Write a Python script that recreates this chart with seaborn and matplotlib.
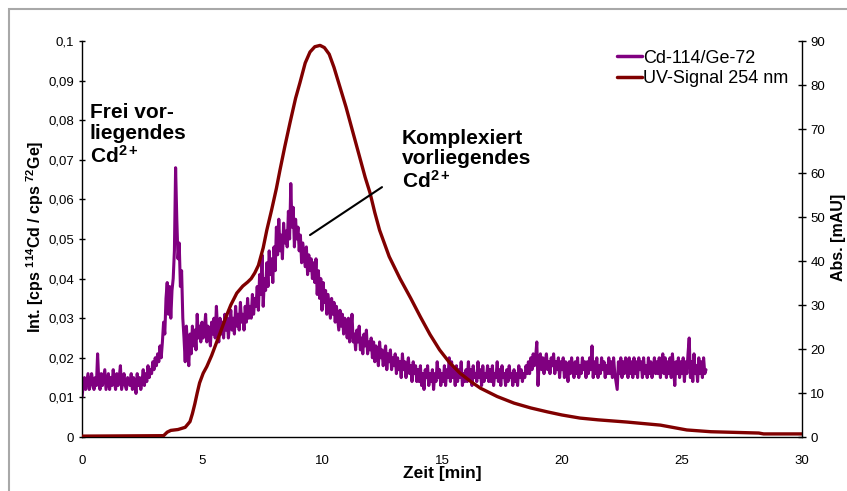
import numpy as np
import pandas as pd
import matplotlib
matplotlib.use("Agg")
import matplotlib.pyplot as plt
import seaborn as sns
from matplotlib.ticker import MultipleLocator
from matplotlib.lines import Line2D
from matplotlib.patches import Rectangle

# Cd-114/Ge-72, ein Wert je 0,05 min (eine Zeile = 1 min)
cd_ratio = [
    0.010, 0.013, 0.015, 0.012, 0.014, 0.016, 0.012, 0.013, 0.016, 0.014, 0.012, 0.015, 0.013, 0.021, 0.014, 0.012, 0.016, 0.013, 0.015, 0.017,
    0.012, 0.014, 0.016, 0.012, 0.015, 0.013, 0.017, 0.014, 0.012, 0.016, 0.013, 0.015, 0.018, 0.012, 0.014, 0.016, 0.013, 0.012, 0.015, 0.014,
    0.013, 0.016, 0.012, 0.015, 0.014, 0.011, 0.016, 0.013, 0.015, 0.012, 0.014, 0.017, 0.013, 0.016, 0.014, 0.018, 0.015, 0.017, 0.016, 0.019,
    0.017, 0.020, 0.018, 0.021, 0.019, 0.023, 0.020, 0.024, 0.029, 0.026, 0.035, 0.039, 0.031, 0.038, 0.030, 0.037, 0.040, 0.047, 0.068, 0.055,
    0.045, 0.049, 0.038, 0.042, 0.030, 0.025, 0.019, 0.028, 0.022, 0.018, 0.026, 0.021, 0.028, 0.023, 0.027, 0.022, 0.031, 0.025, 0.028, 0.024,
    0.029, 0.025, 0.027, 0.031, 0.024, 0.028, 0.026, 0.023, 0.029, 0.026, 0.030, 0.025, 0.033, 0.027, 0.024, 0.030, 0.026, 0.029, 0.025, 0.031,
    0.027, 0.030, 0.025, 0.029, 0.032, 0.027, 0.030, 0.026, 0.033, 0.028, 0.031, 0.027, 0.034, 0.029, 0.031, 0.027, 0.033, 0.029, 0.035, 0.030,
    0.033, 0.030, 0.036, 0.031, 0.035, 0.033, 0.038, 0.032, 0.041, 0.036, 0.046, 0.033, 0.040, 0.037, 0.044, 0.038, 0.047, 0.041, 0.045, 0.039,
    0.048, 0.042, 0.053, 0.046, 0.055, 0.047, 0.051, 0.045, 0.054, 0.049, 0.052, 0.048, 0.057, 0.050, 0.064, 0.053, 0.058, 0.048, 0.055, 0.050,
    0.053, 0.047, 0.051, 0.044, 0.049, 0.046, 0.043, 0.048, 0.041, 0.046, 0.042, 0.045, 0.040, 0.044, 0.039, 0.045, 0.036, 0.042, 0.035, 0.040,
    0.032, 0.039, 0.034, 0.037, 0.031, 0.036, 0.033, 0.030, 0.035, 0.031, 0.034, 0.029, 0.033, 0.030, 0.027, 0.032, 0.028, 0.031, 0.026, 0.030,
    0.028, 0.025, 0.030, 0.024, 0.027, 0.031, 0.024, 0.026, 0.022, 0.027, 0.024, 0.028, 0.022, 0.025, 0.021, 0.026, 0.023, 0.027, 0.021, 0.024,
    0.022, 0.025, 0.020, 0.024, 0.019, 0.023, 0.021, 0.018, 0.024, 0.020, 0.022, 0.018, 0.021, 0.023, 0.017, 0.021, 0.019, 0.022, 0.017, 0.020,
    0.018, 0.021, 0.016, 0.020, 0.017, 0.019, 0.015, 0.021, 0.017, 0.019, 0.015, 0.018, 0.020, 0.016, 0.018, 0.014, 0.019, 0.016, 0.018, 0.014,
    0.017, 0.014, 0.018, 0.013, 0.016, 0.012, 0.017, 0.015, 0.018, 0.013, 0.016, 0.014, 0.017, 0.012, 0.016, 0.014, 0.019, 0.015, 0.017, 0.013,
    0.016, 0.014, 0.018, 0.013, 0.017, 0.015, 0.020, 0.014, 0.019, 0.015, 0.017, 0.013, 0.018, 0.014, 0.017, 0.015, 0.019, 0.013, 0.016, 0.014,
    0.017, 0.014, 0.019, 0.015, 0.017, 0.013, 0.018, 0.015, 0.016, 0.014, 0.019, 0.015, 0.017, 0.013, 0.018, 0.014, 0.016, 0.015, 0.018, 0.014,
    0.017, 0.014, 0.018, 0.013, 0.016, 0.015, 0.019, 0.014, 0.017, 0.013, 0.018, 0.015, 0.016, 0.013, 0.017, 0.014, 0.018, 0.015, 0.016, 0.013,
    0.017, 0.014, 0.016, 0.013, 0.018, 0.015, 0.017, 0.014, 0.016, 0.015, 0.018, 0.016, 0.019, 0.016, 0.020, 0.017, 0.021, 0.018, 0.020, 0.024,
    0.013, 0.019, 0.021, 0.017, 0.020, 0.016, 0.019, 0.021, 0.017, 0.019, 0.016, 0.020, 0.018, 0.021, 0.016, 0.019, 0.017, 0.020, 0.015, 0.019,
    0.017, 0.020, 0.015, 0.019, 0.017, 0.014, 0.019, 0.016, 0.020, 0.017, 0.015, 0.019, 0.016, 0.020, 0.015, 0.018, 0.016, 0.020, 0.017, 0.019,
    0.015, 0.019, 0.016, 0.020, 0.017, 0.023, 0.015, 0.019, 0.016, 0.020, 0.015, 0.018, 0.016, 0.020, 0.017, 0.019, 0.015, 0.018, 0.016, 0.020,
    0.016, 0.019, 0.015, 0.020, 0.016, 0.014, 0.012, 0.019, 0.016, 0.020, 0.015, 0.019, 0.016, 0.020, 0.017, 0.015, 0.020, 0.016, 0.019, 0.015,
    0.020, 0.016, 0.019, 0.015, 0.020, 0.017, 0.019, 0.015, 0.020, 0.016, 0.018, 0.015, 0.020, 0.016, 0.019, 0.015, 0.017, 0.020, 0.016, 0.019,
    0.016, 0.020, 0.015, 0.019, 0.021, 0.016, 0.020, 0.015, 0.019, 0.016, 0.020, 0.015, 0.021, 0.017, 0.013, 0.019, 0.016, 0.020, 0.015, 0.019,
    0.016, 0.020, 0.014, 0.019, 0.016, 0.021, 0.025, 0.015, 0.019, 0.014, 0.021, 0.016, 0.018, 0.014, 0.020, 0.016, 0.019, 0.015, 0.020, 0.016,
    0.017,
]
cd_zeit = np.round(np.arange(len(cd_ratio)) * 0.05, 2)

# UV-Signal 254 nm (mAU)
uv_zeit = [0, 3.4, 3.55, 3.7, 4.0, 4.3, 4.5, 4.6, 4.7, 4.8, 4.9, 5.05, 5.2,
           5.4, 5.6, 5.8, 6.0, 6.2, 6.45, 6.7, 6.9, 7.05, 7.2, 7.35, 7.55,
           7.7, 7.9, 8.1, 8.25, 8.45, 8.67, 8.9, 9.08, 9.3, 9.5, 9.7, 9.92,
           10.1, 10.3, 10.5, 10.75, 11.0, 11.2, 11.4, 11.6, 11.8, 12.0, 12.2,
           12.4, 12.8, 13.25, 13.7, 14.1, 14.5, 14.9, 15.3, 15.75, 16.2, 16.6,
           17.3, 18.0, 18.7, 19.4, 20.0, 20.75, 21.5, 22.7, 24.1, 24.8, 25.2,
           26.2, 28.2, 28.4, 30]
uv_signal = [0.2, 0.3, 1.1, 1.5, 1.7, 2.2, 3.5, 5.3, 7.5, 10, 12.3, 14.5, 16,
             18.5, 21.4, 24.3, 27.3, 30, 32.7, 34.3, 35.2, 36, 37.3, 39, 43,
             47, 51.6, 56.5, 60.7, 66, 71.5, 77, 80.5, 85, 87.5, 88.7, 89,
             88.5, 87, 84, 79.5, 75, 71, 67, 63, 59, 55.5, 51,
             47, 41, 36, 31.5, 27.3, 23.3, 19.8, 17, 14.5, 12.6, 11.1,
             9.2, 7.7, 6.6, 5.7, 5.0, 4.3, 3.9, 3.4, 2.7, 2.0, 1.6,
             1.2, 0.9, 0.7, 0.7]

x_ticks = [0, 5, 10, 15, 20, 25, 30]
y_links_ticks = [0, 0.01, 0.02, 0.03, 0.04, 0.05, 0.06, 0.07, 0.08, 0.09, 0.1]
y_links_labels = ["0", "0,01", "0,02", "0,03", "0,04", "0,05", "0,06",
                  "0,07", "0,08", "0,09", "0,1"]
y_rechts_ticks = [0, 10, 20, 30, 40, 50, 60, 70, 80, 90]

lila = "#800080"
rot = "#800000"

sns.set_style("white")
plt.rcParams["font.family"] = ["Liberation Sans", "DejaVu Sans"]
plt.rcParams["mathtext.fontset"] = "custom"
plt.rcParams["mathtext.rm"] = "Liberation Sans"
plt.rcParams["mathtext.it"] = "Liberation Sans:italic"
plt.rcParams["mathtext.bf"] = "Liberation Sans:bold"
plt.rcParams["text.color"] = "black"
plt.rcParams["axes.labelcolor"] = "black"
plt.rcParams["xtick.color"] = "black"
plt.rcParams["ytick.color"] = "black"

df_cd = pd.DataFrame({"Zeit": cd_zeit, "Ratio": cd_ratio})
df_uv = pd.DataFrame({"Zeit": uv_zeit, "UV": uv_signal})

fig = plt.figure(figsize=(8.47, 4.91), dpi=100)
ax = fig.add_axes([82 / 847, 54 / 491, 720 / 847, 396 / 491])
ax2 = ax.twinx()

sns.lineplot(data=df_cd, x="Zeit", y="Ratio", ax=ax, color=lila,
             linewidth=2.2, estimator=None)
sns.lineplot(data=df_uv, x="Zeit", y="UV", ax=ax2, color=rot,
             linewidth=2.4, estimator=None)

ax.set_xlim(0, 30)
ax.set_ylim(0, 0.1)
ax2.set_ylim(0, 90)

ax.set_xticks(x_ticks)
ax.set_xticklabels([str(t) for t in x_ticks])
ax.xaxis.set_minor_locator(MultipleLocator(1))
ax.set_yticks(y_links_ticks)
ax.set_yticklabels(y_links_labels)
ax2.set_yticks(y_rechts_ticks)
ax2.set_yticklabels([str(t) for t in y_rechts_ticks])

ax.tick_params(axis="x", which="major", direction="inout", length=6, width=1,
               labelsize=9.5, pad=10, color="black")
ax.tick_params(axis="x", which="minor", direction="in", length=3, width=1,
               color="black")
ax.tick_params(axis="y", direction="inout", length=5, width=1,
               labelsize=9.5, pad=3, color="black", left=True)
ax2.tick_params(axis="y", direction="inout", length=6, width=1,
                labelsize=9.5, pad=3, color="black", right=True)

for s in ["top", "right"]:
    ax.spines[s].set_visible(False)
for s in ["top", "left", "bottom"]:
    ax2.spines[s].set_visible(False)
for s in ["left", "bottom"]:
    ax.spines[s].set_color("black")
    ax.spines[s].set_linewidth(1)
ax2.spines["right"].set_color("black")
ax2.spines["right"].set_linewidth(1)

ax.set_xlabel("Zeit [min]", fontsize=12.5, fontweight="bold")
ax.xaxis.label.set_va("center")
ax.xaxis.set_label_coords(0.5, -0.091)
ax.set_ylabel(r"Int. [cps $\mathbf{^{114}}$Cd / cps $\mathbf{^{72}}$Ge]",
              fontsize=11.5, fontweight="bold")
ax.yaxis.label.set_va("center")
ax.yaxis.set_label_coords(-0.065, 0.505)
ax2.set_ylabel("Abs. [mAU]", fontsize=11.5, fontweight="bold")
ax2.yaxis.label.set_va("center")
ax2.yaxis.set_label_coords(1.05, 0.505)

ax.text(0.33, 0.0843, "Frei vor-\nliegendes\nCd$\\mathbf{^{2+}}$",
        fontsize=15, fontweight="bold", va="top", ha="left", linespacing=1.1)
ax.text(13.33, 0.0778, "Komplexiert\nvorliegendes\nCd$\\mathbf{^{2+}}$",
        fontsize=15, fontweight="bold", va="top", ha="left", linespacing=1.1)
ax2.annotate("", xy=(9.5, 0.051), xycoords=ax.transData,
             xytext=(12.5, 0.0631), textcoords=ax.transData,
             arrowprops=dict(arrowstyle="-", lw=1.5, color="black",
                             shrinkA=0, shrinkB=0))

handles = [Line2D([], [], color=lila, lw=2.5), Line2D([], [], color=rot, lw=2.5)]
ax2.legend(handles, ["Cd-114/Ge-72", "UV-Signal 254 nm"], loc="upper left",
           bbox_to_anchor=(0.743, 0.978), frameon=False, fontsize=13,
           handlelength=1.4, handletextpad=0.05, borderpad=0,
           borderaxespad=0, labelspacing=0.2)

fig.patches.append(Rectangle((9 / 847, -0.1), 1.2, (491 - 9) / 491 + 0.1,
                             transform=fig.transFigure, fill=False,
                             edgecolor="#a8a8a8", linewidth=1.5))

fig.savefig("out.png", dpi=100)
